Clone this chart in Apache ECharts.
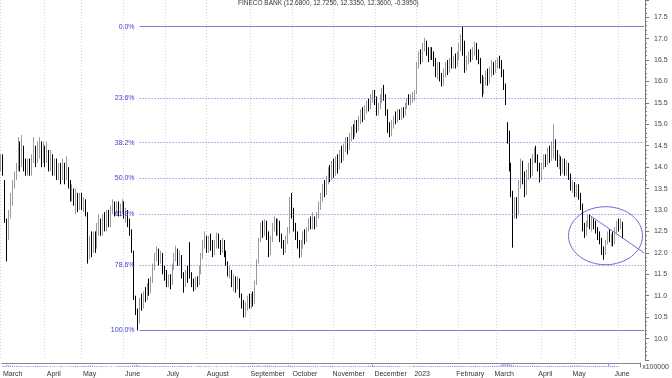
<!DOCTYPE html>
<html><head><meta charset="utf-8">
<script src="https://cdn.jsdelivr.net/npm/echarts@6/dist/echarts.min.js"></script>
<style>html,body{margin:0;padding:0;background:#fff}#c{width:672px;height:378px}</style>
</head><body><div id="c"></div>
<script>
const titleText = 'FINECO BANK (12.6800, 12.7250, 12.3350, 12.3600, -0.3950)';
const monthNames = ['March','April','May','June','July','August','September','October','November','December','2023','February','March','April','May','June'];
const monthDays = [23,19,22,22,21,23,22,21,22,21,22,20,23,18,22,14];
// [open, close, low, high]
const mar22 = [[14.0,14.2,13.9,14.3],[14.2,13.9,13.8,14.3],[13.6,12.8,12.7,13.7],[12.7,12.3,11.8,12.8],[12.4,12.9,12.3,13.0],[12.9,13.3,12.8,13.4],[13.2,13.6,13.1,13.7],[13.6,13.8,13.5,13.9],[13.8,14.0,13.7,14.1],[14.0,14.5,13.9,14.7],[14.4,14.1,13.9,14.6],[14.1,14.6,14.0,14.75],[14.4,14.1,13.9,14.5],[14.1,14.0,13.8,14.2],[13.9,14.1,13.8,14.2],[14.0,13.9,13.8,14.2],[13.9,14.2,13.8,14.3],[14.2,14.5,14.1,14.7],[14.4,14.2,14.0,14.5],[14.2,14.4,14.1,14.6],[14.4,14.6,14.2,14.7],[14.5,14.2,14.0,14.6],[14.3,14.5,14.1,14.6]];
const apr22 = [[14.4,14.2,14.0,14.5],[14.2,14.4,14.1,14.6],[14.3,14.0,13.9,14.4],[14.0,14.3,13.9,14.4],[14.2,13.9,13.8,14.3],[13.9,14.1,13.8,14.2],[14.1,13.9,13.7,14.2],[13.8,14.0,13.7,14.1],[14.0,13.8,13.6,14.1],[13.8,14.1,13.7,14.2],[14.0,13.9,13.6,14.1],[13.8,14.1,13.7,14.25],[13.9,13.6,13.5,14.0],[13.6,13.3,13.2,13.7],[13.3,13.5,13.2,13.6],[13.4,13.2,13.1,13.5],[13.2,13.4,12.9,13.5],[13.3,13.1,12.95,13.4],[13.1,13.3,13.0,13.4]];
const may22 = [[13.3,13.1,13.0,13.4],[13.1,13.2,12.95,13.3],[13.2,12.9,12.85,13.25],[12.9,12.1,11.75,12.95],[12.1,12.3,11.85,12.4],[12.3,12.1,11.9,12.5],[12.1,12.4,12.0,12.5],[12.4,12.2,12.0,12.5],[12.2,12.6,12.1,12.7],[12.5,12.7,12.4,12.9],[12.7,12.5,12.4,12.8],[12.5,12.8,12.4,12.9],[12.8,12.6,12.5,12.95],[12.6,12.9,12.5,13.0],[12.9,12.7,12.6,13.0],[12.7,13.0,12.6,13.1],[13.0,13.2,12.9,13.25],[13.1,12.95,12.85,13.2],[12.95,13.1,12.9,13.2],[13.1,12.9,12.85,13.2],[12.9,13.05,12.85,13.15],[13.0,13.15,12.9,13.25]];
const jun22 = [[13.1,12.9,12.8,13.2],[12.9,12.95,12.7,13.05],[12.9,12.7,12.6,13.0],[12.7,12.5,12.4,12.8],[12.5,12.05,12.0,12.55],[12.0,10.95,10.9,12.05],[10.9,10.7,10.55,11.0],[10.65,10.4,10.19,10.7],[10.45,10.9,10.35,10.95],[10.9,10.75,10.65,11.05],[10.8,11.05,10.7,11.1],[11.0,10.9,10.85,11.2],[10.95,11.25,10.9,11.3],[11.2,11.1,11.0,11.4],[11.1,11.4,11.05,11.45],[11.4,11.7,11.3,11.75],[11.7,11.9,11.6,12.0],[11.9,12.05,11.8,12.15],[12.0,11.85,11.7,12.1],[11.85,11.95,11.75,12.05],[11.9,11.6,11.5,12.0],[11.6,11.45,11.35,11.7]];
const jul22 = [[11.5,11.3,11.2,11.6],[11.3,11.4,11.2,11.5],[11.4,11.25,11.15,11.5],[11.3,11.7,11.25,11.75],[11.7,11.9,11.6,12.0],[11.9,12.05,11.8,12.17],[12.0,11.8,11.7,12.1],[11.8,11.95,11.7,12.05],[11.9,11.5,11.4,11.95],[11.5,11.3,11.07,11.55],[11.3,11.5,11.2,11.6],[11.5,11.4,11.3,11.7],[12.1,11.45,11.4,12.25],[11.45,11.3,11.2,11.55],[11.3,11.2,11.1,11.4],[11.2,11.35,11.14,11.45],[11.35,11.3,11.2,11.45],[11.3,11.6,11.25,11.7],[11.6,11.9,11.5,12.0],[11.9,12.2,11.85,12.3],[12.2,12.35,12.1,12.5]];
const aug22 = [[12.3,12.1,12.0,12.4],[12.1,12.3,12.0,12.4],[12.3,12.2,12.05,12.45],[12.2,12.0,11.9,12.3],[12.0,12.2,11.95,12.3],[12.2,12.35,12.1,12.47],[12.35,12.2,12.1,12.45],[12.2,12.05,11.95,12.3],[12.05,12.25,12.0,12.35],[12.2,12.0,11.9,12.3],[12.0,11.75,11.7,12.05],[11.75,11.5,11.45,11.8],[11.5,11.6,11.4,11.7],[11.55,11.3,11.2,11.6],[11.3,11.4,11.1,11.5],[11.4,11.2,11.07,11.45],[11.3,11.35,11.15,11.45],[11.35,11.0,10.95,11.4],[11.0,10.8,10.7,11.05],[10.8,10.6,10.49,10.9],[10.6,10.75,10.5,10.85],[10.75,10.9,10.65,11.0],[10.9,10.8,10.7,11.05]];
const sep22 = [[10.8,10.95,10.7,11.05],[10.95,10.85,10.75,11.1],[10.85,11.3,10.8,11.35],[11.3,11.8,11.25,11.85],[11.8,12.3,11.75,12.35],[12.3,12.6,12.25,12.7],[12.6,12.5,12.35,12.75],[12.5,12.7,12.4,12.78],[12.65,12.4,12.3,12.75],[12.4,12.0,11.9,12.5],[12.0,12.3,11.95,12.4],[12.3,12.6,12.25,12.7],[12.6,12.75,12.5,12.85],[12.7,12.5,12.4,12.8],[12.5,12.7,12.4,12.8],[12.7,12.35,12.25,12.75],[12.35,12.2,12.1,12.45],[12.2,12.05,11.95,12.3],[12.05,12.3,12.0,12.4],[12.3,12.5,12.2,12.6],[12.5,13.2,12.45,13.3],[13.2,12.9,12.8,13.4]];
const oct22 = [[12.9,12.6,12.5,13.05],[12.6,12.4,12.3,12.7],[12.4,12.2,12.1,12.5],[12.2,12.0,11.88,12.3],[12.0,12.2,11.9,12.3],[12.2,12.4,12.1,12.5],[12.4,12.3,12.2,12.55],[12.3,12.55,12.25,12.6],[12.55,12.7,12.5,12.8],[12.7,12.6,12.55,12.85],[12.6,12.75,12.55,12.95],[12.75,12.65,12.55,12.85],[12.65,12.85,12.6,12.95],[12.85,13.1,12.8,13.2],[13.1,13.3,13.0,13.4],[13.3,13.5,13.2,13.6],[13.5,13.4,13.3,13.7],[13.4,13.7,13.35,13.8],[13.7,13.9,13.6,14.0],[13.9,13.8,13.65,14.05],[13.8,14.05,13.7,14.15]];
const nov22 = [[14.05,13.9,13.75,14.2],[13.9,14.1,13.8,14.25],[14.1,14.0,13.85,14.3],[14.0,14.3,13.95,14.4],[14.3,14.2,14.1,14.5],[14.2,14.45,14.15,14.55],[14.45,14.6,14.35,14.7],[14.6,14.45,14.3,14.7],[14.45,14.7,14.4,14.8],[14.7,14.85,14.6,14.95],[14.85,14.75,14.65,15.0],[14.75,15.0,14.7,15.1],[15.0,14.9,14.8,15.1],[14.9,15.1,14.85,15.2],[15.1,15.25,15.0,15.35],[15.25,15.15,15.05,15.4],[15.15,15.35,15.1,15.45],[15.35,15.5,15.25,15.55],[15.5,15.4,15.3,15.6],[15.4,15.6,15.35,15.7],[15.6,15.7,15.5,15.8],[15.7,15.55,15.45,15.8]];
const dec22 = [[15.55,15.3,15.2,15.65],[15.3,15.4,15.2,15.5],[15.4,15.6,15.35,15.7],[15.6,15.75,15.5,15.85],[15.75,15.65,15.55,15.92],[15.65,15.3,15.2,15.7],[15.3,14.9,14.8,15.35],[14.9,14.8,14.7,15.05],[14.8,15.0,14.72,15.1],[15.0,15.15,14.9,15.2],[15.15,15.1,15.0,15.3],[15.1,15.25,15.05,15.35],[15.25,15.2,15.1,15.35],[15.2,15.3,15.1,15.4],[15.3,15.25,15.15,15.4],[15.25,15.4,15.2,15.5],[15.4,15.55,15.35,15.6],[15.55,15.5,15.45,15.7],[15.5,15.6,15.45,15.7],[15.6,15.65,15.5,15.75],[15.65,15.7,15.55,15.8]];
const jan23 = [[15.75,16.35,15.7,16.45],[16.4,16.6,16.3,16.7],[16.6,16.5,16.4,16.75],[16.5,16.8,16.45,16.9],[16.8,16.9,16.7,17.02],[16.85,16.7,16.6,16.95],[16.7,16.55,16.45,16.8],[16.55,16.7,16.5,16.8],[16.7,16.6,16.5,16.8],[16.6,16.45,16.35,16.7],[16.45,16.2,16.1,16.55],[16.2,16.35,16.05,16.45],[16.35,16.1,16.0,16.45],[16.1,15.95,15.88,16.2],[15.95,16.2,15.9,16.3],[16.2,16.35,16.1,16.45],[16.35,16.25,16.15,16.5],[16.25,16.45,16.2,16.55],[16.45,16.35,16.3,16.8],[16.35,16.55,16.3,16.6],[16.55,16.4,16.3,16.65],[16.4,16.6,16.35,16.7]];
const feb23 = [[16.6,16.8,16.5,16.9],[16.8,17.0,16.7,17.1],[17.0,16.9,16.6,17.28],[16.85,16.3,16.2,16.95],[16.3,16.5,16.25,16.6],[16.5,16.6,16.4,16.7],[16.6,16.55,16.45,16.75],[16.55,16.7,16.5,16.8],[16.7,16.8,16.6,16.93],[16.8,16.65,16.5,16.9],[16.65,16.5,16.4,16.75],[16.5,16.1,15.95,16.55],[16.1,15.8,15.64,16.15],[15.8,16.0,15.7,16.1],[16.0,16.15,15.9,16.25],[16.15,16.05,15.9,16.3],[16.05,16.2,15.95,16.35],[16.2,16.35,16.1,16.5],[16.35,16.25,16.15,16.45],[16.25,16.4,16.2,16.5]];
const mar23 = [[16.4,16.5,16.3,16.55],[16.5,16.4,16.3,16.6],[16.4,16.2,16.1,16.5],[16.2,15.9,15.8,16.28],[15.9,15.5,15.45,15.95],[15.0,14.8,14.55,15.05],[14.8,14.0,13.9,14.85],[14.0,13.6,13.3,14.1],[13.4,12.85,12.12,13.45],[12.9,13.2,12.8,13.3],[13.2,12.95,12.8,13.3],[13.0,13.6,12.9,13.7],[13.6,14.0,13.5,14.2],[14.0,13.8,13.6,14.15],[13.8,13.4,13.3,13.9],[13.4,13.8,13.35,13.95],[13.8,14.05,13.7,14.1],[14.1,13.85,13.75,14.2],[13.85,14.2,13.8,14.3],[14.2,14.35,14.1,14.45],[14.35,14.25,14.1,14.5],[14.25,14.05,13.9,14.3],[14.05,13.75,13.64,14.1]];
const apr23 = [[13.75,14.0,13.7,14.1],[14.0,14.2,13.95,14.3],[14.2,14.1,14.0,14.3],[14.1,14.35,14.05,14.45],[14.35,14.2,14.1,14.5],[14.2,14.5,14.15,14.6],[14.5,14.6,14.2,15.0],[14.55,14.25,14.15,14.65],[14.25,14.1,14.0,14.4],[14.1,14.2,13.95,14.3],[14.15,13.95,13.8,14.25],[13.95,14.1,13.85,14.2],[14.1,13.95,13.8,14.2],[13.95,14.05,13.8,14.15],[14.0,13.8,13.7,14.1],[13.8,13.55,13.45,13.85],[13.55,13.6,13.4,13.7],[13.6,13.4,13.3,13.65]];
const may23 = [[13.4,13.5,13.3,13.6],[13.5,13.3,13.24,13.6],[13.3,13.1,13.0,13.4],[13.1,12.6,12.5,13.15],[12.6,12.5,12.35,12.7],[12.5,12.7,12.4,12.75],[12.7,12.85,12.6,12.9],[12.85,12.6,12.55,12.9],[12.6,12.75,12.5,12.85],[12.75,12.65,12.55,12.8],[12.65,12.55,12.45,12.75],[12.55,12.4,12.3,12.6],[12.4,12.3,12.2,12.5],[12.3,12.05,11.95,12.35],[12.05,11.95,11.84,12.15],[12.0,12.25,11.95,12.3],[12.25,12.45,12.2,12.5],[12.45,12.3,12.25,12.55],[12.3,12.4,12.15,12.45],[12.4,12.25,12.15,12.5],[12.25,12.5,12.2,12.6],[12.5,12.7,12.45,12.75]];
const jun23 = [[12.7,12.6,12.5,12.8],[12.6,12.755,12.55,12.8],[12.68,12.36,12.335,12.725]];
const volumes = [3,2,5,4,3,2,2,3,2,2,2,1,2,2,2,1,2,2,3,2,2,2,2,
 2,1,2,1,2,1,1,2,2,1,1,1,2,1,2,2,2,1,2,
 2,3,2,3,4,2,2,2,1,2,2,1,2,1,1,2,1,1,2,2,3,2,
 2,2,3,2,3,4,5,4,3,2,3,2,2,2,1,2,2,1,2,2,3,2,
 2,2,1,2,2,1,2,3,2,2,1,2,2,2,1,1,2,2,2,1,2,
 1,2,1,1,1,2,1,1,1,1,1,1,1,2,1,1,2,1,2,2,2,1,2,
 2,3,3,2,4,3,2,3,4,3,4,3,2,3,2,2,2,3,2,3,4,3,
 2,3,2,2,3,2,2,2,3,2,2,3,2,2,1,2,2,3,2,2,2,
 2,2,1,2,2,1,2,2,1,2,2,3,2,1,2,2,2,1,2,3,2,6,
 3,2,2,2,3,2,2,2,3,2,2,1,2,2,1,1,1,1,1,1,1,
 3,2,2,2,3,2,2,1,2,2,2,1,2,2,2,2,1,2,3,2,2,2,
 2,3,3,2,2,2,1,2,2,2,3,2,2,1,2,2,2,2,2,2,
 2,3,2,4,6,7,6,7,6,5,4,3,3,2,3,2,2,3,2,2,2,3,2,
 2,2,2,1,2,2,3,2,2,1,2,2,2,2,3,2,2,3,
 3,4,3,4,3,3,3,2,3,2,2,3,2,2,3,2,2,3,2,9,2,2,
 3,2,2];
const fibPct = [0, 23.6, 38.2, 50, 61.8, 78.6, 100];
const fibStartIndex = 72;
const trendLine = [[306, 12.87], [334, 12.0]];
const ellipseCenter = [313.8, 12.4];
const volumeUnit = 'x100000';

const ohlc = [].concat(mar22, apr22, may22, jun22, jul22, aug22, sep22, oct22, nov22, dec22, jan23, feb23, mar23, apr23, may23, jun23);
const categories = [];
const monthStart = new Set();
monthNames.forEach((m, k) => {
  for (let d = 0; d < monthDays[k]; d++) {
    if (d === 0) monthStart.add(categories.length);
    categories.push(m + '|' + k + '|' + d);
  }
});
const isStart = (idx) => monthStart.has(idx);
const hi = Math.max(...ohlc.map(d => d[3]));
const lo = Math.min(...ohlc.map(d => d[2]));
const FONT = 'Liberation Sans, Arial, sans-serif';

const fibData = fibPct.map(p => {
  const v = hi - p / 100 * (hi - lo);
  const solid = (p === 0 || p === 100);
  return [
    { coord: [fibStartIndex, v],
      lineStyle: { type: solid ? 'solid' : [1, 2], color: solid ? '#8282cc' : '#6a6ad2', width: 1 },
      label: { show: true, position: 'start', distance: 5, formatter: p.toFixed(1) + '%', color: '#3b3bd4', fontSize: 7, fontFamily: FONT } },
    { coord: [categories.length - 1, v] }
  ];
});
fibData.push([
  { coord: trendLine[0], lineStyle: { type: 'solid', color: '#7070d4', width: 1 }, label: { show: false } },
  { coord: trendLine[1] }
]);

const splitLine = { show: true, interval: isStart, lineStyle: { color: '#d2d2d2', type: [1, 2], width: 1 } };
const chart = echarts.init(document.getElementById('c'), null, { renderer: 'canvas' });
chart.setOption({
  animation: false,
  backgroundColor: '#ffffff',
  title: { text: titleText, left: 233, top: -5, textStyle: { fontSize: 6.5, fontWeight: 'normal', color: '#333', fontFamily: FONT } },
  grid: [
    { left: 0, right: 27, top: 0, height: 360 },
    { left: 0, right: 27, top: 363, height: 6 }
  ],
  xAxis: [
    { gridIndex: 0, type: 'category', data: categories, boundaryGap: true,
      axisLine: { show: false }, axisTick: { show: false }, axisLabel: { show: false }, splitLine: splitLine },
    { gridIndex: 1, type: 'category', data: categories, boundaryGap: true, position: 'bottom',
      axisLine: { show: false }, axisTick: { show: false },
      axisLabel: { show: true, interval: isStart, align: 'left', margin: 4, fontSize: 7, color: '#333', fontFamily: FONT,
        formatter: (v) => v.split('|')[0] },
      splitLine: splitLine },
    { gridIndex: 1, type: 'category', data: categories, boundaryGap: true, position: 'top',
      axisLine: { show: true, lineStyle: { color: '#8a8a8a', width: 1 } }, axisTick: { show: false }, axisLabel: { show: false }, splitLine: { show: false } }
  ],
  yAxis: [
    { gridIndex: 0, type: 'value', position: 'right', min: 9.5, max: 17.9, interval: 0.5,
      axisLine: { show: true, lineStyle: { color: '#777' } },
      axisTick: { show: true, length: 4, lineStyle: { color: '#777' } },
      minorTick: { show: true, splitNumber: 5, length: 2, lineStyle: { color: '#777' } },
      axisLabel: { show: true, margin: 9, fontSize: 7, color: '#444', fontFamily: FONT, showMinLabel: false, showMaxLabel: false,
        formatter: (v) => v.toFixed(1) },
      splitLine: { show: false } },
    { gridIndex: 1, type: 'value', position: 'right', min: 0, max: 9, interval: 9,
      axisLine: { show: true, lineStyle: { color: '#777' } }, axisTick: { show: false },
      axisLabel: { show: true, margin: 2, fontSize: 7, color: '#444', fontFamily: FONT, showMaxLabel: false,
        formatter: (v) => (v === 0 ? volumeUnit : '') },
      splitLine: { show: false } }
  ],
  series: [
    { type: 'candlestick', xAxisIndex: 0, yAxisIndex: 0, data: ohlc, barWidth: 1,
      itemStyle: { color: '#ffffff', color0: '#000000', borderColor: '#9a9a9a', borderColor0: '#000000', borderWidth: 1 },
      markLine: { symbol: 'none', silent: true, animation: false, data: fibData } },
    { type: 'bar', xAxisIndex: 1, yAxisIndex: 1, data: volumes, barWidth: 1, itemStyle: { color: '#8a8ade' } }
  ]
});
const c = chart.convertToPixel({ xAxisIndex: 0, yAxisIndex: 0 }, ellipseCenter);
chart.setOption({
  graphic: [{ type: 'ellipse', silent: true, shape: { cx: c[0], cy: c[1], rx: 37, ry: 29 },
    style: { fill: 'none', stroke: '#6c6cd6', lineWidth: 1 } }]
});
</script></body></html>
